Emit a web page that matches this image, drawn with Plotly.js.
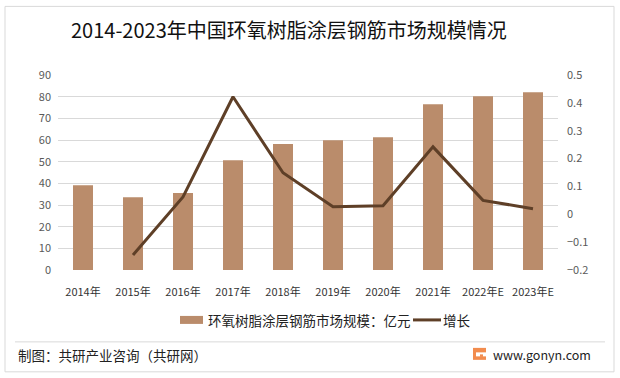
<!DOCTYPE html>
<html><head><meta charset="utf-8">
<script src="https://cdn.plot.ly/plotly-3.0.1.min.js"></script>
<style>html,body{margin:0;padding:0;background:#fff;}#c{width:620px;height:378px;}</style>
</head><body><div id="c"></div>
<script>
const years = ['2014年','2015年','2016年','2017年','2018年','2019年','2020年','2021年','2022年E','2023年E'];
const marketSize = [39.1, 33.6, 35.5, 50.7, 58.1, 59.9, 61.3, 76.5, 80.2, 82.0];
const growth = [null, -0.146, 0.062, 0.422, 0.149, 0.027, 0.031, 0.242, 0.050, 0.020];
const barName = '环氧树脂涂层钢筋市场规模：亿元';
const lineName = '增长';

const L = 58, R = 558, T = 74.7, B = 270;
const px = x => (x - L) / (R - L);
const py = y => (B - y) / (B - T);
const font = '"Microsoft YaHei", "Noto Sans CJK SC", sans-serif';
const barColor = '#BA8C6B', lineColor = '#5E3F27';

const traces = [
  {type:'bar', x: years, y: marketSize, name: barName, marker:{color:barColor}, hoverinfo:'skip'},
  {type:'scatter', mode:'lines', x: years, y: growth, yaxis:'y2', name: lineName,
   line:{color:lineColor, width:3}, hoverinfo:'skip', connectgaps:false}
];

const layout = {
  width:620, height:378,
  margin:{l:L, r:620-R, t:T, b:378-B, pad:0},
  paper_bgcolor:'#fff', plot_bgcolor:'rgba(0,0,0,0)',
  font:{family:font, color:'#595959', size:11},
  title:{text:'2014-2023年中国环氧树脂涂层钢筋市场规模情况', xref:'container', x:71/620, xanchor:'left',
         yref:'container', y:1-31/378, yanchor:'middle', font:{size:20, color:'#111', family:font}},
  bargap:0.6,
  showlegend:false,
  xaxis:{type:'category', showgrid:false, zeroline:false, showline:false, ticks:'',
         tickfont:{size:11, color:'#333'}, ticklabelstandoff:14, fixedrange:true},
  yaxis:{range:[0,90], dtick:10, showgrid:true, gridcolor:'#d9d9d9', gridwidth:1, zeroline:false,
         showline:false, ticks:'', tickfont:{size:11, color:'#595959'}, ticklabelstandoff:6},
  yaxis2:{range:[-0.2,0.5], dtick:0.1, overlaying:'y', side:'right', showgrid:false, zeroline:false,
          showline:false, ticks:'', tickfont:{size:11, color:'#595959'}, ticklabelstandoff:8},
  shapes:[
    {type:'rect', xref:'paper', yref:'paper', x0:px(5), x1:px(614), y0:py(372), y1:py(6),
     line:{color:'#d9d9d9', width:1}, layer:'below'},
    {type:'line', xref:'paper', yref:'paper', x0:px(15), x1:px(605), y0:py(342), y1:py(342),
     line:{color:'#d9d9d9', width:1}},
    {type:'rect', xref:'paper', yref:'paper', x0:px(180), x1:px(203), y0:py(324), y1:py(316),
     line:{width:0}, fillcolor:barColor},
    {type:'line', xref:'paper', yref:'paper', x0:px(413), x1:px(441), y0:py(320), y1:py(320),
     line:{color:lineColor, width:3}},
    {type:'rect', xref:'paper', yref:'paper', x0:px(473), x1:px(486), y0:py(360), y1:py(348),
     line:{width:0}, fillcolor:'#F28C4E'},
    {type:'rect', xref:'paper', yref:'paper', x0:px(476), x1:px(486), y0:py(356.5), y1:py(352.5),
     line:{width:0}, fillcolor:'#FFFFFF'},
    {type:'rect', xref:'paper', yref:'paper', x0:px(480), x1:px(483), y0:py(357), y1:py(354.5),
     line:{width:0}, fillcolor:'#F28C4E'}
  ],
  annotations:[
    {xref:'paper', yref:'paper', x:px(206), y:py(320), xanchor:'left', yanchor:'middle', showarrow:false,
     text:barName, font:{size:13.5, color:'#222', family:font}},
    {xref:'paper', yref:'paper', x:px(441), y:py(320), xanchor:'left', yanchor:'middle', showarrow:false,
     text:lineName, font:{size:13.5, color:'#222', family:font}},
    {xref:'paper', yref:'paper', x:px(16), y:py(355), xanchor:'left', yanchor:'middle', showarrow:false,
     text:'制图：共研产业咨询（共研网）', font:{size:13.5, color:'#222', family:font}},
    {xref:'paper', yref:'paper', x:px(491), y:py(355), xanchor:'left', yanchor:'middle', showarrow:false,
     text:'www.gonyn.com', font:{size:12.5, color:'#222', family:font}}
  ]
};
Plotly.newPlot('c', traces, layout, {staticPlot:true, displayModeBar:false});
</script></body></html>
